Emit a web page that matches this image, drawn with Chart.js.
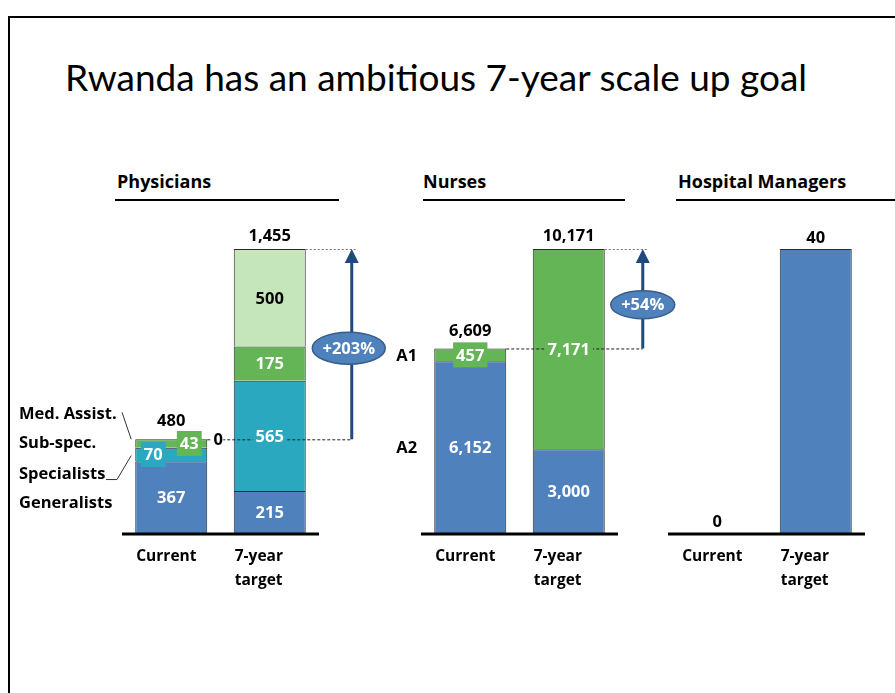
<!DOCTYPE html>
<html>
<head>
<meta charset="utf-8">
<script src="https://cdn.jsdelivr.net/npm/chart.js@4.4.1/dist/chart.umd.min.js"></script>
<style>
  body { margin: 0; background: #fff; font-family: "Open Sans", Lato, sans-serif; }
  #slide { position: relative; width: 895px; height: 693px; overflow: hidden; }
  #frame { position: absolute; left: 8px; top: 16px; width: 900px; height: 700px;
           border-left: 2px solid #000; border-top: 2px solid #000; }
  h1 { position: absolute; left: 65px; top: 56px; margin: 0; font-family: Lato, sans-serif; font-weight: 400;
       font-size: 37px; line-height: 42px; color: #000; white-space: nowrap; }
  .hdr { position: absolute; top: 170px; font-weight: 700; font-size: 18px; line-height: 22px;
         padding-bottom: 7px; border-bottom: 2px solid #000; box-sizing: content-box; }
  canvas { position: absolute; left: 0; top: 0; }
</style>
</head>
<body>
<div id="slide">
  <div id="frame"></div>
  <h1>Rwanda has an ambitious 7-year scale up goal</h1>
  <div class="hdr" style="left:115px;width:222px;padding-left:2px">Physicians</div>
  <div class="hdr" style="left:423px;width:202px">Nurses</div>
  <div class="hdr" style="left:676px;width:228px;padding-left:2px">Hospital Managers</div>
  <canvas id="phys" width="895" height="693"></canvas>
  <canvas id="nurse" width="895" height="693"></canvas>
  <canvas id="mgr" width="895" height="693"></canvas>
</div>
<script>
// data
const categories = ['Current', ['7-year', 'target']];

const physNames = ['Generalists', 'Specialists', 'Sub-spec.', 'Med. Assist.'];
const physGeneralists = [367, 215];
const physSpecialists = [70, 565];
const physSubSpec = [43, 175];
const physMedAssist = [0, 500];

const nurseNames = ['A2', 'A1'];
const nurseA2 = [6152, 3000];
const nurseA1 = [457, 7171];

const managers = [0, 40];

const physGrowth = '+203%';
const nurseGrowth = '+54%';

// colours
const BLUE = '#4F81BD', TEAL = '#2AA8C0', GREEN = '#64B556', LIGHT = '#C5E6BB';
const FONT = '"Open Sans", Lato, sans-serif';
const fmt = v => v.toLocaleString('en-US');

// annotations: axis line, labels, totals, growth arrows
const annot = {
  id: 'annot',
  afterDatasetsDraw(chart, args, o) {
    const ctx = chart.ctx, ca = chart.chartArea;
    const ds = chart.data.datasets;
    const metas = ds.map((d, i) => chart.getDatasetMeta(i).data);
    const n = chart.data.labels.length;
    const top = [], left = [], right = [], totals = [];
    for (let j = 0; j < n; j++) {
      let t = ca.bottom, sum = 0;
      metas.forEach((m, i) => { t = Math.min(t, m[j].y); sum += ds[i].data[j]; });
      const b = metas[0][j];
      top.push(t); left.push(b.x - b.width / 2); right.push(b.x + b.width / 2); totals.push(sum);
    }
    ctx.save();

    // baseline
    ctx.strokeStyle = '#000'; ctx.lineWidth = 3;
    ctx.beginPath(); ctx.moveTo(ca.left, ca.bottom + 1); ctx.lineTo(ca.right, ca.bottom + 1); ctx.stroke();

    // growth connector lines
    let ax;
    if (o.growth) {
      ax = right[1] + o.arrowGap;
      ctx.lineWidth = 1;
      ctx.strokeStyle = '#777'; ctx.setLineDash([2, 2]);
      ctx.beginPath(); ctx.moveTo(right[1], top[1] + 0.5); ctx.lineTo(ax + 6, top[1] + 0.5); ctx.stroke();
      ctx.strokeStyle = '#222'; ctx.setLineDash([3, 2]);
      ctx.beginPath(); ctx.moveTo(right[0], top[0] + 0.5); ctx.lineTo(ax, top[0] + 0.5); ctx.stroke();
      ctx.setLineDash([]);
    }

    // segment labels
    ctx.textAlign = 'center'; ctx.textBaseline = 'middle';
    ctx.font = 'bold 16.5px ' + FONT;
    if (o.segLabels) {
      ds.forEach((d, i) => {
        d.data.forEach((v, j) => {
          const b = metas[i][j];
          if (v === 0) {
            if (o.zeroSide) {
              const tx = right[j] + 10, ty = b.y;
              ctx.fillStyle = '#fff'; ctx.fillRect(tx - 6, ty - 10, 12, 20);
              ctx.fillStyle = '#000'; ctx.fillText('0', tx + 1, ty + 1);
            }
            return;
          }
          const nudge = (o.nudge && o.nudge[i + ',' + j]) || 0;
          const cx = b.x + nudge, cy = (b.y + b.base) / 2;
          const s = fmt(v), w = ctx.measureText(s).width + 6;
          ctx.fillStyle = d.backgroundColor;
          ctx.fillRect(cx - w / 2, cy - 12.5, w, 25);
          ctx.fillStyle = d.backgroundColor === LIGHT ? '#000' : '#fff';
          ctx.fillText(s, cx, cy + 1);
        });
      });
    }

    // totals above the stacks
    ctx.fillStyle = '#000';
    for (let j = 0; j < n; j++) {
      ctx.fillText(fmt(totals[j]), (left[j] + right[j]) / 2, top[j] - o.totalGap[j]);
    }

    // arrow and ellipse
    if (o.growth) {
      ctx.strokeStyle = '#1F4A7D'; ctx.fillStyle = '#1F4A7D'; ctx.lineWidth = 3;
      ctx.beginPath(); ctx.moveTo(ax, top[0]); ctx.lineTo(ax, top[1] + 10); ctx.stroke();
      ctx.beginPath(); ctx.moveTo(ax, top[1]); ctx.lineTo(ax - 7, top[1] + 14); ctx.lineTo(ax + 7, top[1] + 14);
      ctx.closePath(); ctx.fill();
      const ey = (top[0] + top[1]) / 2 + o.ellipse.dy;
      ctx.beginPath(); ctx.ellipse(ax + o.ellipse.dx, ey, o.ellipse.w / 2, o.ellipse.h / 2, 0, 0, Math.PI * 2);
      ctx.fillStyle = BLUE; ctx.fill();
      ctx.strokeStyle = '#385D8A'; ctx.lineWidth = 1.5; ctx.stroke();
      ctx.fillStyle = '#fff'; ctx.font = 'bold 16.5px ' + FONT;
      ctx.fillText(o.growth, ax + o.ellipse.dx, ey + 1);
    }

    // category labels, left aligned at bar edge
    ctx.fillStyle = '#000'; ctx.textAlign = 'left'; ctx.font = 'bold 15.5px ' + FONT;
    chart.data.labels.forEach((lab, j) => {
      [].concat(lab).forEach((line, k) => ctx.fillText(line, left[j] + 1, ca.bottom + 24 + k * 24));
    });

    // series names at the side of the current bar
    ctx.font = 'bold 16.5px ' + FONT;
    if (o.sideNames === 'phys') {
      const m = j => metas[j][0];
      const lx = ca.left - 103;
      const mid = b => (b.y + b.base) / 2;
      const ys = [mid(m(0)) + 6, mid(m(1)) + 20, mid(m(2)), top[0] - 25];
      ds.forEach((d, i) => ctx.fillText(d.label, lx, ys[i]));
      ctx.strokeStyle = '#333'; ctx.lineWidth = 1;
      ctx.beginPath();
      ctx.moveTo(ca.left, ys[3] - 2); ctx.lineTo(left[0] - 4, top[0]);
      ctx.moveTo(ca.left - 16, ys[1] + 5); ctx.lineTo(ca.left - 5, ys[1] + 5); ctx.lineTo(left[0] - 4, mid(m(1)) + 1);
      ctx.stroke();
    } else if (o.sideNames === 'nurse') {
      ds.forEach((d, i) => {
        const b = metas[i][0];
        ctx.fillText(d.label, left[0] - 38, (b.y + b.base) / 2 + 1);
      });
    }
    ctx.restore();
  }
};

function build(id, axisLeft, max, datasets, opts) {
  return new Chart(document.getElementById(id), {
    type: 'bar',
    data: { labels: categories, datasets },
    options: {
      responsive: false,
      animation: false,
      layout: { padding: { left: axisLeft, right: 895 - axisLeft - 197, top: 249, bottom: 693 - 533 } },
      datasets: { bar: { categoryPercentage: 1, barPercentage: 0.731, borderColor: '#2b2b2b', borderWidth: 1 } },
      scales: {
        x: { display: false, stacked: true },
        y: { display: false, stacked: true, min: 0, max }
      },
      plugins: { legend: { display: false }, tooltip: { enabled: false }, annot: opts }
    },
    plugins: [annot]
  });
}

build('phys', 122, 1455, [
  { label: physNames[0], data: physGeneralists, backgroundColor: BLUE },
  { label: physNames[1], data: physSpecialists, backgroundColor: TEAL },
  { label: physNames[2], data: physSubSpec, backgroundColor: GREEN },
  { label: physNames[3], data: physMedAssist, backgroundColor: LIGHT }
], {
  segLabels: true, zeroSide: true, nudge: { '1,0': -18, '2,0': 18 },
  totalGap: [18, 13], growth: physGrowth, arrowGap: 46,
  ellipse: { dx: -3, dy: 4, w: 73, h: 32 }, sideNames: 'phys'
});

build('nurse', 421, 10171, [
  { label: nurseNames[0], data: nurseA2, backgroundColor: BLUE },
  { label: nurseNames[1], data: nurseA1, backgroundColor: GREEN }
], {
  segLabels: true, totalGap: [17, 13], growth: nurseGrowth, arrowGap: 38,
  ellipse: { dx: 0, dy: 6, w: 64, h: 28 }, sideNames: 'nurse'
});

build('mgr', 668, 40, [
  { label: 'Hospital Managers', data: managers, backgroundColor: BLUE }
], { segLabels: false, totalGap: [11, 11] });
</script>
</body>
</html>
